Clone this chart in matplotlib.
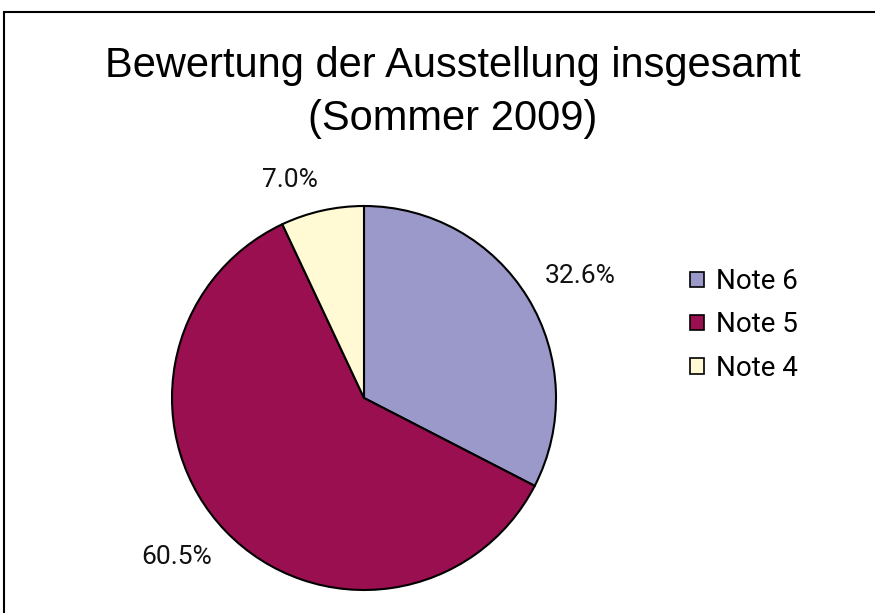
import numpy as np
import matplotlib
matplotlib.use("Agg")
import matplotlib.pyplot as plt
from matplotlib.patches import Rectangle, Patch

labels = ["Note 6", "Note 5", "Note 4"]
values = [32.6, 60.5, 7.0]
pct_text = ["32.6%", "60.5%", "7.0%"]
colors = ["#9B99CA", "#990F50", "#FFF9D4"]

label_font = dict(family=["Roboto", "DejaVu Sans"], weight="normal")

fig = plt.figure(figsize=(8.75, 6.13), dpi=100)

# outer frame (open at right and bottom like the reference crop)
fig.patches.append(Rectangle((4 / 875, -0.05), 1.0, (613 - 12) / 613 + 0.05,
                             transform=fig.transFigure, fill=False,
                             edgecolor="black", lw=1.5))

fig.text(0.517, 0.892, "Bewertung der Ausstellung insgesamt",
         ha="center", va="center", fontsize=30, family="Liberation Sans")
fig.text(0.517, 0.806, "(Sommer 2009)",
         ha="center", va="center", fontsize=30, family="Liberation Sans")

ax = fig.add_axes([172 / 875, 23 / 613, 384 / 875, 384 / 613])
wedges, _ = ax.pie(values, colors=colors, startangle=90, counterclock=False,
                   wedgeprops=dict(edgecolor="black", linewidth=1.5))

# percentage labels placed just outside each wedge, Excel style
for w, txt in zip(wedges, pct_text):
    ang = np.deg2rad((w.theta1 + w.theta2) / 2)
    x, y = 1.1 * np.cos(ang), 1.1 * np.sin(ang)
    ax.text(x, y, txt, ha="left" if x > 0 else "right",
            va="bottom" if y > 0 else "top", fontsize=19, color="#111111",
            **label_font)

ax.set_xlim(-1, 1)
ax.set_ylim(-1, 1)
ax.set_aspect("equal")

handles = [Patch(facecolor=c, edgecolor="black", lw=1.2) for c in colors]
fig.legend(handles, labels, loc="center left",
           bbox_to_anchor=(0.760, 0.470), frameon=False,
           prop=dict(size=20, **label_font),
           handlelength=0.5, handleheight=0.5, handletextpad=0.45,
           labelspacing=0.58)

fig.savefig("out.png", dpi=100)
